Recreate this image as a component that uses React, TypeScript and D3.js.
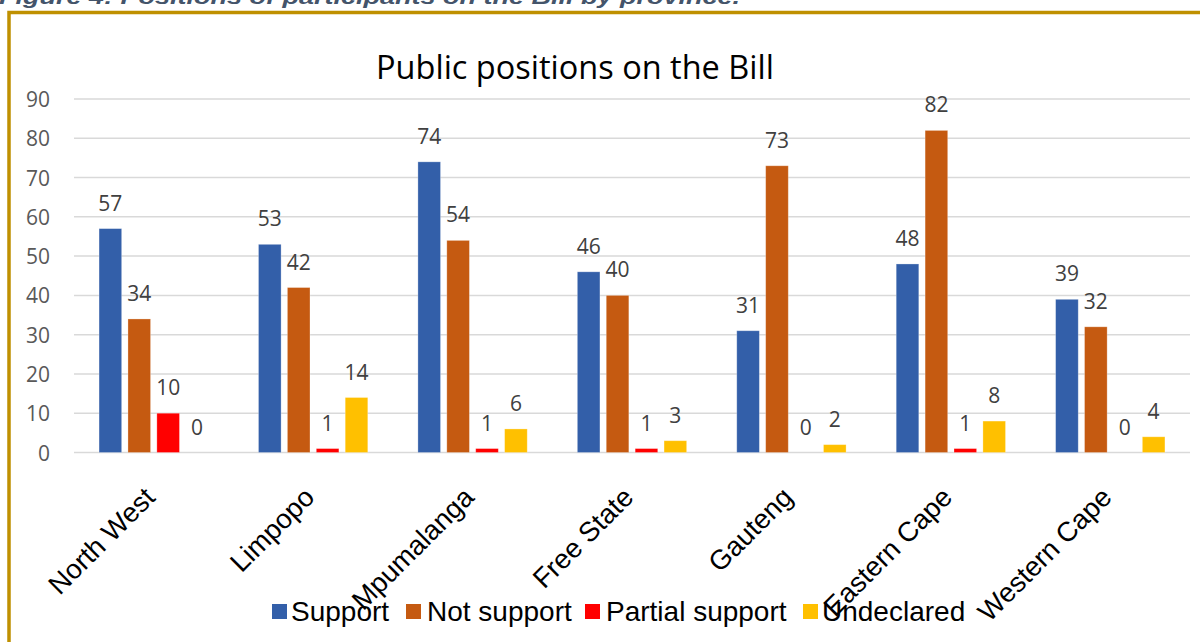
import React from "react";
import * as d3 from "d3";

const provinces = ["North West", "Limpopo", "Mpumalanga", "Free State", "Gauteng", "Eastern Cape", "Western Cape"];
const seriesNames = ["Support", "Not support", "Partial support", "Undeclared"];
const supportVals = [57, 53, 74, 46, 31, 48, 39];
const notSupportVals = [34, 42, 54, 40, 73, 82, 32];
const partialVals = [10, 1, 1, 1, 0, 1, 0];
const undeclaredVals = [0, 14, 6, 3, 2, 8, 4];
const yTicks = [0, 10, 20, 30, 40, 50, 60, 70, 80, 90];
const colors = ["#335FA9", "#C55A11", "#FF0000", "#FFC000"];

const W = 1200;
const H = 642;
const plotLeft = 74;
const plotRight = 1190;
const yZero = 452.5;
const yTop = 99;

export default function App() {
  const series = [supportVals, notSupportVals, partialVals, undeclaredVals];
  const x0 = d3.scaleBand<string>().domain(provinces).range([plotLeft, plotRight]).paddingInner(0).paddingOuter(0);
  const x1 = d3
    .scaleBand<string>()
    .domain(seriesNames)
    .range([0, x0.bandwidth()])
    .paddingInner(0.218)
    .paddingOuter(0.867);
  const y = d3.scaleLinear().domain([0, 90]).range([yZero, yTop]);

  const numFont = "'Open Sans', 'Noto Sans', sans-serif";
  const arial = "'Liberation Sans', Arial, sans-serif";

  const legendItems = [
    { name: seriesNames[0], sq: 272, tx: 291 },
    { name: seriesNames[1], sq: 406, tx: 427 },
    { name: seriesNames[2], sq: 585, tx: 606 },
    { name: seriesNames[3], sq: 803, tx: 822 },
  ];

  return (
    <svg
      width={W}
      height={H}
      viewBox={`0 0 ${W} ${H}`}
      style={{ position: "absolute", left: 0, top: 0, display: "block", background: "#fff" }}
    >
      <rect x={0} y={0} width={W} height={H} fill="#fff" />
      {/* caption, cut at top */}
      <text
        x={-1}
        y={4}
        fontFamily={arial}
        fontWeight="bold"
        fontStyle="italic"
        fontSize={20}
        fill="#44546A"
        textLength={741}
        lengthAdjust="spacingAndGlyphs"
      >
        Figure 4: Positions of participants on the Bill by province.
      </text>
      {/* gold frame */}
      <path d={`M 9 ${H + 5} L 9 12.5 L ${W + 5} 12.5`} fill="none" stroke="#BF9000" strokeWidth={3.5} />

      {/* title */}
      <text x={575} y={79} textAnchor="middle" fontFamily={numFont} fontSize={32.5} fill="#000">
        Public positions on the Bill
      </text>

      {/* gridlines */}
      {yTicks.map((t) => (
        <line key={"g" + t} x1={plotLeft} x2={plotRight} y1={y(t)} y2={y(t)} stroke="#D9D9D9" strokeWidth={1.5} />
      ))}
      {yTicks.map((t) => (
        <text
          key={"t" + t}
          x={50}
          y={y(t)}
          textAnchor="end"
          dominantBaseline="central"
          fontFamily={numFont}
          fontSize={21}
          fill="#595959"
        >
          {t}
        </text>
      ))}

      {/* bars */}
      {provinces.map((p, i) => (
        <g key={p} transform={`translate(${x0(p)},0)`}>
          {series.map((vals, s) => {
            const bx = x1(seriesNames[s]) as number;
            const v = vals[i];
            return (
              <g key={s}>
                {v > 0 && (
                  <rect
                    x={bx}
                    y={y(v)}
                    width={x1.bandwidth()}
                    height={yZero - y(v)}
                    fill={colors[s]}
                    stroke="#fff"
                    strokeOpacity={0.35}
                    strokeWidth={0.8}
                  />
                )}
                <text
                  x={bx + x1.bandwidth() / 2}
                  y={y(v) - 18}
                  textAnchor="middle"
                  fontFamily={numFont}
                  fontSize={21}
                  fill="#404040"
                >
                  {v}
                </text>
              </g>
            );
          })}
        </g>
      ))}

      {/* category labels */}
      {provinces.map((p) => {
        const cx = (x0(p) as number) + x0.bandwidth() / 2;
        return (
          <text
            key={"c" + p}
            transform={`translate(${cx - 11},${485}) rotate(-45)`}
            textAnchor="end"
            dy="0.72em"
            fontFamily={arial}
            fontSize={27.5}
            fill="#000"
          >
            {p}
          </text>
        );
      })}

      {/* legend */}
      {legendItems.map((it, i) => (
        <g key={"l" + i}>
          <rect x={it.sq} y={604} width={15} height={15} fill={colors[i]} />
          <text x={it.tx} y={621} fontFamily={arial} fontSize={28} fill="#000">
            {it.name}
          </text>
        </g>
      ))}
    </svg>
  );
}
